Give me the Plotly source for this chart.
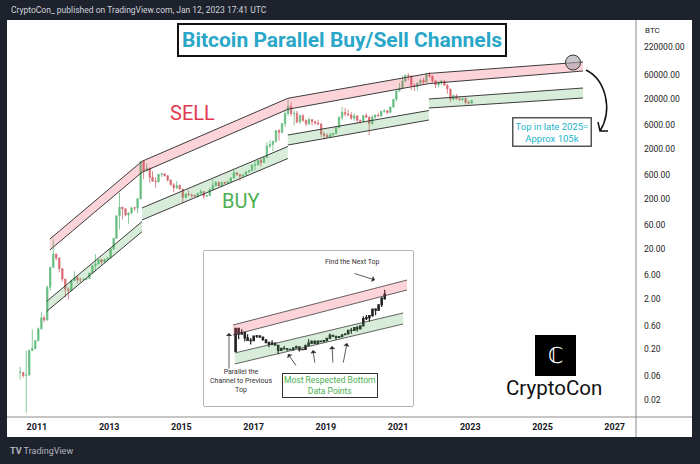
import plotly.graph_objects as go
import pandas as pd

# ---------------- data ----------------
# Monthly BTC candles, Jul 2010 .. Jan 2023
closes = [0.07, 0.06, 0.062, 0.19, 0.21, 0.30,
          0.52, 0.86, 0.78, 3.5, 8.7, 16.1, 13.4, 8.2, 5.1, 3.2, 3.0, 4.7,
          5.5, 4.9, 4.9, 5.0, 5.2, 6.7, 9.4, 10.2, 12.4, 11.2, 12.6, 13.5,
          20.4, 33.4, 93, 139, 129, 97, 106, 135, 133, 204, 1129, 732,
          830, 550, 458, 448, 627, 640, 587, 481, 387, 338, 378, 320,
          217, 254, 244, 236, 230, 263, 284, 230, 236, 314, 377, 430,
          368, 437, 416, 448, 531, 673, 624, 573, 608, 698, 742, 963,
          970, 1190, 1080, 1348, 2300, 2480, 2875, 4700, 4338, 6468, 10233, 14156,
          10221, 10397, 6973, 9240, 7494, 6404, 7780, 7037, 6625, 6318, 4017, 3742,
          3457, 3854, 4105, 5350, 8574, 10817, 10085, 9630, 8293, 9199, 7569, 7193,
          9350, 8599, 6438, 8658, 9461, 9138, 11351, 11681, 10785, 13805, 19713, 28990,
          33114, 45137, 58918, 57750, 37332, 35040, 41626, 47166, 43790, 61318, 57005, 46306,
          38483, 43193, 45538, 37714, 31792, 19785, 23336, 20049, 19431, 20495, 17168, 16548,
          18800]
highs = [0.09, 0.07, 0.19, 0.2, 0.5, 0.31,
         0.55, 1.1, 0.95, 3.8, 9, 31.9, 16, 14, 8.5, 5, 3.5, 5,
         7.3, 6.2, 5.5, 5.3, 5.3, 6.8, 9.5, 16, 12.5, 12.9, 12.9, 13.9,
         21, 33.5, 95, 266, 139, 129, 110, 138, 141, 212, 1160, 1150,
         1040, 850, 720, 548, 634, 680, 650, 600, 500, 420, 460, 390,
         320, 265, 300, 260, 248, 270, 315, 285, 245, 335, 500, 467,
         460, 446, 440, 467, 553, 770, 700, 626, 633, 720, 752, 979,
         1150, 1210, 1350, 1375, 2760, 3000, 2950, 4800, 5000, 6500, 11500, 19800,
         17200, 11800, 11700, 9800, 10000, 7800, 8500, 7800, 7400, 7700, 6600, 4400,
         4100, 4200, 4150, 5600, 9000, 13900, 13200, 12300, 10900, 10400, 9500, 7700,
         9600, 10500, 9200, 9500, 10080, 10400, 11450, 12480, 12100, 14100, 19900, 29300,
         41900, 58300, 61800, 64900, 59500, 41300, 42300, 50500, 52900, 67000, 69000, 59000,
         47900, 45800, 48200, 47400, 39900, 31900, 24700, 25200, 22800, 20900, 21500, 18400,
         19100]
lows = [0.05, 0.055, 0.011, 0.06, 0.19, 0.2,
        0.29, 0.5, 0.7, 0.75, 3, 8.7, 12, 7, 4.5, 2.2, 2.0, 2.9,
        4.8, 4.2, 4.3, 4.7, 4.9, 5.2, 6.5, 7.2, 10, 9.9, 10.5, 12.5,
        13, 19.5, 33, 50, 80, 91, 65, 100, 117, 105, 197, 500,
        740, 420, 450, 340, 430, 550, 570, 450, 380, 275, 320, 310,
        165, 210, 238, 214, 228, 215, 254, 200, 224, 234, 300, 350,
        355, 367, 406, 415, 444, 528, 586, 470, 600, 605, 684, 742,
        750, 940, 890, 1060, 1330, 2100, 1830, 2670, 2950, 4100, 5500, 9400,
        9000, 5900, 6500, 6400, 7000, 5700, 6000, 5900, 6100, 6200, 3500, 3100,
        3350, 3400, 3700, 4050, 5300, 7500, 9000, 9300, 7700, 7300, 6500, 6400,
        6900, 8500, 3800, 6150, 8100, 8900, 8950, 10600, 9800, 10400, 13200, 17600,
        28100, 32300, 45000, 47000, 30000, 28800, 29300, 37300, 39600, 43300, 53300, 42000,
        32900, 34300, 37200, 37600, 25400, 17600, 18800, 19600, 18150, 18200, 15500, 16300,
        16500]
first_month = "2010-07-01"

# Sell (pink) channels: one per cycle, start/end date, top & bottom prices
pink_x0 = ["2011-05-12", "2013-11-28", "2017-12-13", "2021-11-09"]
pink_x1 = ["2013-11-28", "2017-12-13", "2021-11-09", "2026-02-15"]
pink_top0 = [32.1, 1141, 20650, 64860]
pink_top1 = [1141, 20650, 64860, 109500]
pink_bot0 = [19.4, 688, 12460, 40590]
pink_bot1 = [688, 12460, 40590, 72430]

# Buy (green) channels
green_x0 = ["2011-04-11", "2013-11-28", "2017-12-13", "2021-11-09"]
green_x1 = ["2013-11-28", "2017-12-13", "2021-11-09", "2026-02-15"]
green_top0 = [1.84, 133.5, 3823, 20000]
green_top1 = [71.1, 2254, 11790, 33160]
green_bot0 = [1.16, 76.9, 2414, 13225]
green_bot1 = [44.9, 1298, 7616, 20940]

# Projected top marker
top_date = "2025-11-06"
top_price = 107000

# Inset (2014-2017 cycle example)
inset_start, inset_end = "2013-11-01", "2017-12-31"
inset_pink_x = ["2013-10-19", "2018-07-26"]
inset_pink_top = [1439, 40600]
inset_pink_bot = [684, 19360]
inset_green_x = ["2013-11-07", "2018-06-17"]
inset_green_top = [180, 3510]
inset_green_bot = [79.5, 1549]

# Axis ticks
year_ticks = [2011, 2013, 2015, 2017, 2019, 2021, 2023, 2025, 2027]
price_ticks = [0.02, 0.06, 0.2, 0.6, 2, 6, 20, 60, 200, 600, 2000, 6000, 20000, 60000, 220000]

# ---------------- layout helpers ----------------
W, H = 700, 464
L, T, R, B = 7, 20, 636, 417
PW, PH = R - L, B - T


def px(x):
    return (x - L) / PW


def py(y):
    return (B - y) / PH


dates = pd.date_range(first_month, periods=len(closes), freq="MS") + pd.Timedelta(days=14)
opens = [closes[0]] + closes[:-1]

fig = go.Figure()

PINK_FILL = "rgba(240,70,95,0.24)"
GREEN_FILL = "rgba(76,175,80,0.22)"
EDGE = "#3c3c3c"


def add_band(x0, x1, t0, t1, b0, b1, fill, xa="x", ya="y", lw=1.0):
    fig.add_trace(go.Scatter(x=[x0, x1, x1, x0, x0], y=[t0, t1, b1, b0, t0],
                             fill="toself", fillcolor=fill, mode="lines",
                             line=dict(width=0), hoverinfo="skip", showlegend=False,
                             xaxis=xa, yaxis=ya))
    fig.add_trace(go.Scatter(x=[x0, x1, None, x0, x1], y=[t0, t1, None, b0, b1],
                             mode="lines", line=dict(color=EDGE, width=lw),
                             hoverinfo="skip", showlegend=False, xaxis=xa, yaxis=ya))


for i in range(4):
    add_band(pink_x0[i], pink_x1[i], pink_top0[i], pink_top1[i], pink_bot0[i], pink_bot1[i], PINK_FILL)
    add_band(green_x0[i], green_x1[i], green_top0[i], green_top1[i], green_bot0[i], green_bot1[i], GREEN_FILL)

fig.add_trace(go.Candlestick(x=dates, open=opens, high=highs, low=lows, close=closes,
                             increasing=dict(line=dict(color="#66bd80", width=0.8), fillcolor="#66bd80"),
                             decreasing=dict(line=dict(color="#d86a72", width=0.8), fillcolor="#d86a72"),
                             whiskerwidth=0, hoverinfo="skip", showlegend=False))

fig.add_trace(go.Scatter(x=[top_date], y=[top_price], mode="markers",
                         marker=dict(size=15, color="rgba(165,160,170,0.6)",
                                     line=dict(color="#333", width=1)),
                         hoverinfo="skip", showlegend=False))

# inset
add_band(inset_pink_x[0], inset_pink_x[1], inset_pink_top[0], inset_pink_top[1],
         inset_pink_bot[0], inset_pink_bot[1], PINK_FILL, "x2", "y2", 0.8)
add_band(inset_green_x[0], inset_green_x[1], inset_green_top[0], inset_green_top[1],
         inset_green_bot[0], inset_green_bot[1], GREEN_FILL, "x2", "y2", 0.8)
mask = (dates >= pd.Timestamp(inset_start)) & (dates <= pd.Timestamp(inset_end))
idx = [k for k in range(len(dates)) if mask[k]]
fig.add_trace(go.Candlestick(x=[dates[k] for k in idx], open=[opens[k] for k in idx],
                             high=[highs[k] for k in idx], low=[lows[k] for k in idx],
                             close=[closes[k] for k in idx],
                             increasing=dict(line=dict(color="#222", width=1.2), fillcolor="#222"),
                             decreasing=dict(line=dict(color="#222", width=1.2), fillcolor="#222"),
                             whiskerwidth=0, hoverinfo="skip", showlegend=False,
                             xaxis="x2", yaxis="y2"))

FONT = "Roboto"
shapes = [
    dict(type="rect", xref="paper", yref="paper", x0=px(7), x1=px(692), y0=py(437), y1=py(20),
         fillcolor="white", line=dict(width=0), layer="below"),
    dict(type="rect", xref="paper", yref="paper", x0=px(204), x1=px(413), y0=py(406), y1=py(251),
         fillcolor="white", line=dict(color="#6a6a6a", width=1), layer="below"),
    dict(type="line", xref="paper", yref="paper", x0=px(636), x1=px(636), y0=py(20), y1=py(437),
         line=dict(color="#8c8c8c", width=1)),
    dict(type="line", xref="paper", yref="paper", x0=px(7), x1=px(692), y0=py(417), y1=py(417),
         line=dict(color="#8c8c8c", width=1)),
    dict(type="rect", xref="paper", yref="paper", x0=px(535), x1=px(576), y0=py(376), y1=py(335),
         fillcolor="black", line=dict(width=0)),
    dict(type="path", xref="paper", yref="paper",
         path=f"M {px(586)} {py(70)} C {px(606)} {py(80)}, {px(613)} {py(110)}, {px(600)} {py(131)}"
              f" M {px(598)} {py(122)} L {px(600)} {py(131)} L {px(608)} {py(131)}",
         line=dict(color="#111", width=1.5)),
]


def ann(x, y, text, size, color, **kw):
    d = dict(x=px(x), y=py(y), xref="paper", yref="paper", text=text, showarrow=False,
             xanchor=kw.pop("xanchor", "center"), yanchor=kw.pop("yanchor", "middle"),
             font=dict(family=kw.pop("family", FONT), size=size, color=color))
    d.update(kw)
    return d


def arrow(tx, ty, sx, sy, width=0.8):
    return dict(x=px(tx), y=py(ty), xref="paper", yref="paper", text="", showarrow=True,
                ax=sx - tx, ay=sy - ty, arrowhead=1, arrowsize=1.3, arrowwidth=width,
                arrowcolor="#333", standoff=0)


annotations = [
    ann(9, 10, "CryptoCon_ published on TradingView.com, Jan 12, 2023 17:41 UTC", 8.5, "#d1d4dc",
        xanchor="left"),
    ann(8, 451, "<b>TV</b> TradingView", 9, "#b2b5be", xanchor="left"),
    ann(643, 31, "BTC", 8, "#222", xanchor="left"),
    ann(342, 40, "<b>Bitcoin Parallel Buy/Sell Channels</b>", 21, "#2aa7c8",
        bordercolor="#111", borderwidth=2, borderpad=3, bgcolor="white"),
    ann(192, 113, "SELL", 20, "#e0384c"),
    ann(240, 201, "BUY", 20, "#4caf50"),
    ann(551.5, 131.5, "Top in late 2025=<br>Approx 105k", 9.5, "#22b2cc",
        bordercolor="#555", borderwidth=1.5, borderpad=2, bgcolor="white"),
    ann(352, 262, "Find the Next Top", 7, "#333"),
    ann(241, 381, "Parallel the<br>Channel to Previous<br>Top", 7, "#333"),
    ann(330, 385, "Most Respected Bottom<br>Data Points", 8.5, "#4caf50",
        bordercolor="#333", borderwidth=1, borderpad=1, bgcolor="white"),
    ann(555.5, 355.5, "ℂ", 22, "white", family="DejaVu Sans"),
    ann(554, 388, "CryptoCon", 20.5, "#111"),
    arrow(375, 280, 353, 273),
    arrow(229, 333, 229, 370),
    arrow(288, 354, 297, 367),
    arrow(313, 350, 315, 364),
    arrow(332, 346, 333, 364),
    arrow(347, 343, 343, 364),
]

fig.update_layout(
    width=W, height=H, autosize=False,
    margin=dict(l=L, r=W - R, t=T, b=H - B),
    paper_bgcolor="#1e222d", plot_bgcolor="white",
    font=dict(family=FONT),
    showlegend=False,
    xaxis=dict(type="date", range=["2010-03-04", "2027-08-05"],
               tickvals=[f"{y}-01-01" for y in year_ticks], ticktext=[str(y) for y in year_ticks],
               tickfont=dict(size=9, color="#131722", family=FONT, weight="bold"),
               showgrid=False, zeroline=False, ticks="", showline=False,
               rangeslider=dict(visible=False), fixedrange=True, ticklabelstandoff=3),
    yaxis=dict(type="log", range=[-2.046, 5.878], side="right",
               tickvals=price_ticks, ticktext=[f"{v:.2f}" for v in price_ticks],
               tickfont=dict(size=8.5, color="#222", family=FONT),
               showgrid=False, zeroline=False, ticks="", showline=False, fixedrange=True,
               ticklabelstandoff=7),
    xaxis2=dict(type="date", domain=[px(204), px(413)], anchor="y2",
                range=["2013-01-03", "2018-09-24"], visible=False,
                rangeslider=dict(visible=False), fixedrange=True),
    yaxis2=dict(type="log", domain=[py(406), py(251)], anchor="x2",
                range=[0.545, 5.545], visible=False, fixedrange=True),
    shapes=shapes,
    annotations=annotations,
)

fig.write_html("out.html", config={"displayModeBar": False},
               post_script="document.body.style.margin='0';document.body.style.background='#1e222d';")
